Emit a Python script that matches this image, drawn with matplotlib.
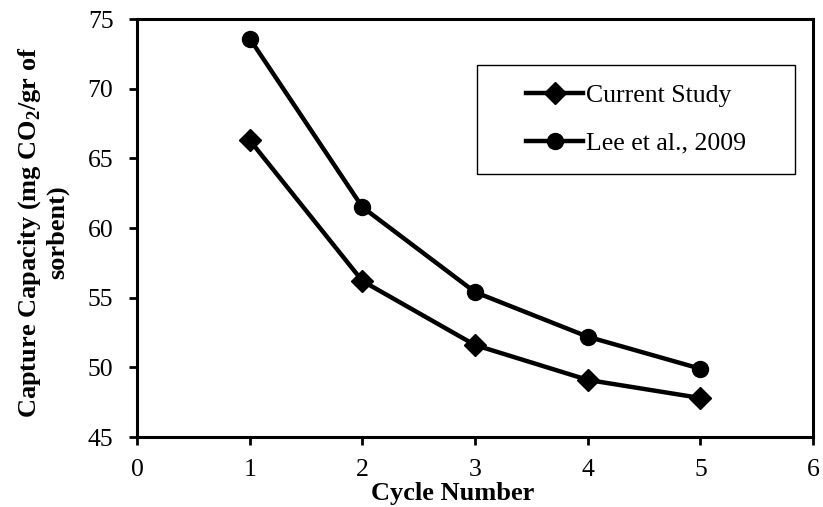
import matplotlib
matplotlib.use("Agg")
import matplotlib.pyplot as plt
from matplotlib.patches import Rectangle

cycles = [1, 2, 3, 4, 5]
current_study = [66.3, 56.2, 51.6, 49.1, 47.8]
lee_2009 = [73.6, 61.5, 55.4, 52.2, 49.9]
x_ticks = [0, 1, 2, 3, 4, 5, 6]
y_ticks = [45, 50, 55, 60, 65, 70, 75]

plt.rcParams['font.family'] = ['Liberation Serif', 'DejaVu Serif']
plt.rcParams['mathtext.fontset'] = 'custom'
plt.rcParams['mathtext.rm'] = 'Liberation Serif'
plt.rcParams['mathtext.bf'] = 'Liberation Serif:bold'

fig = plt.figure(figsize=(8.23, 5.07), dpi=100)
ax = fig.add_axes([0.1665, 0.138, 0.8215, 0.8245])

ax.plot(cycles, current_study, color='black', lw=3.2, marker='D', markersize=11,
        label='Current Study')
ax.plot(cycles, lee_2009, color='black', lw=3.2, marker='o', markersize=11.5,
        label='Lee et al., 2009')

ax.set_xlim(0, 6)
ax.set_ylim(45, 75)
ax.set_xticks(x_ticks)
ax.set_yticks(y_ticks)
ax.tick_params(axis='both', labelsize=18.5, direction='out', length=6, width=2, colors='black')
ax.tick_params(axis='x', pad=10)
ax.tick_params(axis='y', pad=11)
for s in ax.spines.values():
    s.set_linewidth(2.2)
    s.set_color('black')

ax.set_xlabel('Cycle Number', fontsize=19, fontweight='bold')
ax.xaxis.set_label_coords(0.467, -0.136)
ax.xaxis.label.set_va('center')
ax.set_ylabel('Capture Capacity (mg CO$_\\mathbf{2}$/gr of\nsorbent)', fontsize=19,
              fontweight='bold', linespacing=1.15)
ax.yaxis.set_label_coords(-0.139, 0.49)
ax.yaxis.label.set_va('center')

ax.add_patch(Rectangle((0.503, 0.629), 0.9734 - 0.503, 0.890 - 0.629,
                       transform=ax.transAxes, fill=False, edgecolor='black',
                       linewidth=1.0, zorder=4))
leg = ax.legend(loc='center', bbox_to_anchor=(0.738, 0.7596), fontsize=18.5,
                frameon=False, handlelength=2.2, handletextpad=0.1,
                borderpad=0, labelspacing=0.95, borderaxespad=0)

fig.savefig('out.png', dpi=100)
